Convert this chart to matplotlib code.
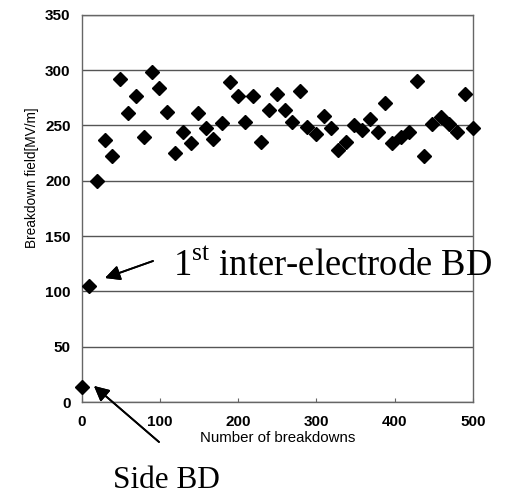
import matplotlib.pyplot as plt

plt.rcParams['mathtext.fontset'] = 'custom'
plt.rcParams['mathtext.rm'] = 'Liberation Serif'

# breakdown number vs field
n_bd = [0, 9, 19, 30, 39, 49, 59, 69, 80, 90,
        99, 109, 119, 129, 140, 149, 159, 168, 179, 189,
        200, 209, 219, 229, 239, 249, 260, 269, 279, 288,
        299, 309, 318, 328, 338, 348, 358, 368, 378, 387,
        397, 408, 418, 428, 438, 448, 459, 469, 479, 490, 500]
field = [14, 105, 200, 237, 222, 292, 261, 277, 240, 298,
         284, 262, 225, 244, 234, 261, 248, 238, 252, 289,
         277, 253, 277, 235, 264, 278, 264, 253, 281, 249,
         242, 259, 248, 228, 235, 250, 246, 256, 244, 270,
         234, 240, 244, 290, 222, 251, 258, 251, 244, 278, 248]

xticks = [0, 100, 200, 300, 400, 500]
yticks = [0, 50, 100, 150, 200, 250, 300, 350]

fig = plt.figure(figsize=(5.07, 4.94), dpi=100)
ax = fig.add_axes([0.161, 0.186, 0.772, 0.784])

ax.plot(n_bd, field, 'D', color='black', markersize=7, clip_on=False, zorder=3)

ax.set_xlim(0, 500)
ax.set_ylim(0, 350)
ax.set_xticks(xticks)
ax.set_yticks(yticks)
ax.yaxis.grid(True, color='#555555', linewidth=1)
ax.set_axisbelow(True)
for s in ax.spines.values():
    s.set_color('#666666')
    s.set_linewidth(1)
ax.tick_params(axis='x', direction='in', length=3, pad=9, color='#666666')
ax.tick_params(axis='y', direction='in', length=0, pad=8)
for lab in ax.get_xticklabels() + ax.get_yticklabels():
    lab.set_family('Liberation Sans')
    lab.set_fontweight('bold')
    lab.set_fontsize(11)

ax.set_xlabel('Number of breakdowns', family='Liberation Sans', fontsize=10.8, labelpad=2)
ax.set_ylabel('Breakdown field[MV/m]', family='Liberation Sans', fontsize=9.8)
ax.yaxis.set_label_coords(-0.11, 0.58)

# annotations in figure pixel coordinates
serif = 'Liberation Serif'
fig.text(173 / 507, 1 - 276 / 494, r'1$^{\rm st}$ inter-electrode BD',
         family=serif, fontsize=26.3, ha='left', va='baseline')
fig.text(166 / 507, 1 - 488 / 494, 'Side BD', family=serif, fontsize=22.5,
         ha='center', va='baseline')
arrow = dict(arrowstyle='-|>,head_length=0.9,head_width=0.45', color='black', lw=1.3,
             shrinkA=0, shrinkB=0)
fig.add_artist(plt.annotate('', xy=(105 / 507, 1 - 278 / 494), xycoords='figure fraction',
                            xytext=(153 / 507, 1 - 261 / 494), textcoords='figure fraction',
                            arrowprops=arrow))
fig.add_artist(plt.annotate('', xy=(94 / 507, 1 - 386 / 494), xycoords='figure fraction',
                            xytext=(159 / 507, 1 - 442 / 494), textcoords='figure fraction',
                            arrowprops=arrow))

fig.savefig('out.png', dpi=100)
